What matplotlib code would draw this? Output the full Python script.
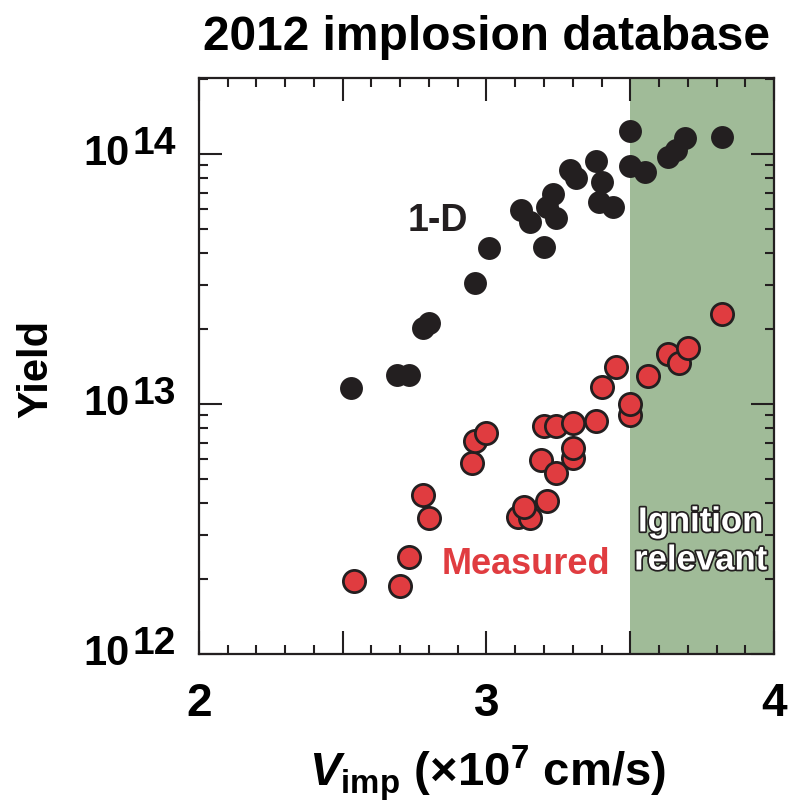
import matplotlib
matplotlib.use("Agg")
import matplotlib.pyplot as plt
import matplotlib.patheffects as pe
from matplotlib.ticker import MultipleLocator, LogLocator, NullFormatter

# =========================
# DATA
# =========================
# 1-D simulated yield vs implosion velocity (x10^7 cm/s)
v_1d = [2.53, 2.69, 2.73, 2.78, 2.80, 2.96, 3.01, 3.12, 3.15, 3.20, 3.23,
        3.21, 3.24, 3.29, 3.31, 3.38, 3.40, 3.39, 3.44, 3.50, 3.50, 3.55,
        3.63, 3.66, 3.69, 3.82]
y_1d = [1.16e13, 1.31e13, 1.31e13, 2.01e13, 2.11e13, 3.04e13, 4.2e13,
        5.97e13, 5.36e13, 4.26e13, 6.92e13, 6.15e13, 5.53e13, 8.63e13,
        8.0e13, 9.4e13, 7.75e13, 6.41e13, 6.15e13, 1.236e14, 8.9e13,
        8.45e13, 9.75e13, 1.04e14, 1.16e14, 1.17e14]

# measured yield
v_meas = [2.54, 2.70, 2.73, 2.78, 2.80, 2.95, 2.96, 3.00, 3.11, 3.15,
          3.13, 3.21, 3.19, 3.24, 3.20, 3.24, 3.30, 3.30, 3.30, 3.38,
          3.40, 3.45, 3.50, 3.50, 3.56, 3.63, 3.67, 3.70, 3.82]
y_meas = [1.95e12, 1.87e12, 2.45e12, 4.33e12, 3.49e12, 5.82e12, 7.11e12,
          7.68e12, 3.54e12, 3.49e12, 3.88e12, 4.1e12, 5.97e12, 5.28e12,
          8.19e12, 8.19e12, 8.37e12, 6.06e12, 6.69e12, 8.55e12, 1.17e13,
          1.40e13, 9.04e12, 1.0e13, 1.29e13, 1.58e13, 1.46e13, 1.67e13,
          2.29e13]

x_ticks = [2, 3, 4]
y_decades = [12, 13, 14]
ignition_v = 3.5

# =========================
# FONTS
# =========================
plt.rcParams["font.family"] = "Liberation Sans"
plt.rcParams["font.weight"] = "bold"
plt.rcParams["mathtext.fontset"] = "custom"
plt.rcParams["mathtext.rm"] = "Liberation Sans:bold"
plt.rcParams["mathtext.it"] = "Liberation Sans:bold:italic"
plt.rcParams["mathtext.bf"] = "Liberation Sans:bold"

black = "#231f20"
red = "#e03c40"
green = "#a0bb98"

fig = plt.figure(figsize=(7.89, 8.10), dpi=100)
ax = fig.add_axes([0.2522, 0.1926, 0.7288, 0.7111])

# =========================
# IGNITION REGION
# =========================
ax.axvspan(ignition_v, 4, color=green, lw=0, zorder=0)

# =========================
# POINTS
# =========================
ax.plot(v_1d, y_1d, "o", color=black, ms=16.5, mew=0, zorder=3)
ax.plot(v_meas, y_meas, "o", mfc=red, mec=black, ms=16, mew=2, zorder=4)

ax.set_yscale("log")
ax.set_xlim(2, 4)
ax.set_ylim(1e12, 2.01e14)

# =========================
# TICKS
# =========================
ax.xaxis.set_major_locator(MultipleLocator(0.5))
ax.xaxis.set_minor_locator(MultipleLocator(0.1))
ax.set_xticklabels(["" if v not in x_ticks else str(int(v)) for v in ax.get_xticks()])
ax.yaxis.set_major_locator(LogLocator(base=10, numticks=10))
ax.yaxis.set_minor_locator(LogLocator(base=10, subs=range(2, 10), numticks=20))
ax.yaxis.set_major_formatter(NullFormatter())
ax.yaxis.set_minor_formatter(NullFormatter())
ax.tick_params(which="both", direction="in", top=True, right=True,
               width=1.5, color=black)
ax.tick_params(which="major", length=16.5)
ax.tick_params(which="minor", length=6.5)
ax.tick_params(axis="x", which="major", labelsize=33, pad=20)
for lab in ax.get_xticklabels():
    lab.set_fontweight("bold")
for s in ax.spines.values():
    s.set_linewidth(1.6)
    s.set_color(black)

# y tick labels: 10 with large superscript
for d in y_decades:
    ax.annotate(str(d), xy=(0, 10.0 ** d), xycoords=ax.get_yaxis_transform(),
                xytext=(-23, 10), textcoords="offset pixels",
                ha="right", va="center", fontsize=28, fontweight="bold",
                annotation_clip=False)
    ax.annotate("10", xy=(0, 10.0 ** d), xycoords=ax.get_yaxis_transform(),
                xytext=(-69, 0), textcoords="offset pixels",
                ha="right", va="center", fontsize=30, fontweight="bold",
                annotation_clip=False)

# =========================
# LABELS
# =========================
ax.text(2.832, 5.37e13, "1-D", fontsize=27, fontweight="bold", color=black,
        ha="center", va="center")
ax.text(3.136, 2.29e12, "Measured", fontsize=26, fontweight="bold", color=red,
        ha="center", va="center")
ax.text(3.745, 2.83e12, "Ignition\nrelevant", fontsize=25, fontweight="bold",
        color="white", ha="center", va="center", linespacing=1.2,
        path_effects=[pe.withStroke(linewidth=2.5, foreground=black)])

fig.text(0.617, 1 - 50 / 810, "2012 implosion database", fontsize=34.5,
         fontweight="bold", ha="center", va="baseline")
fig.text(36 / 789, 1 - 369 / 810, "Yield", fontsize=30, fontweight="bold",
         rotation=90, ha="center", va="center")
fig.text(487 / 789, 1 - 773 / 810,
         r"$V_{\mathrm{imp}}$ (×10$^{\mathrm{7}}$ cm/s)", fontsize=34,
         fontweight="bold", ha="center", va="center")

fig.savefig("out.png", dpi=100)
